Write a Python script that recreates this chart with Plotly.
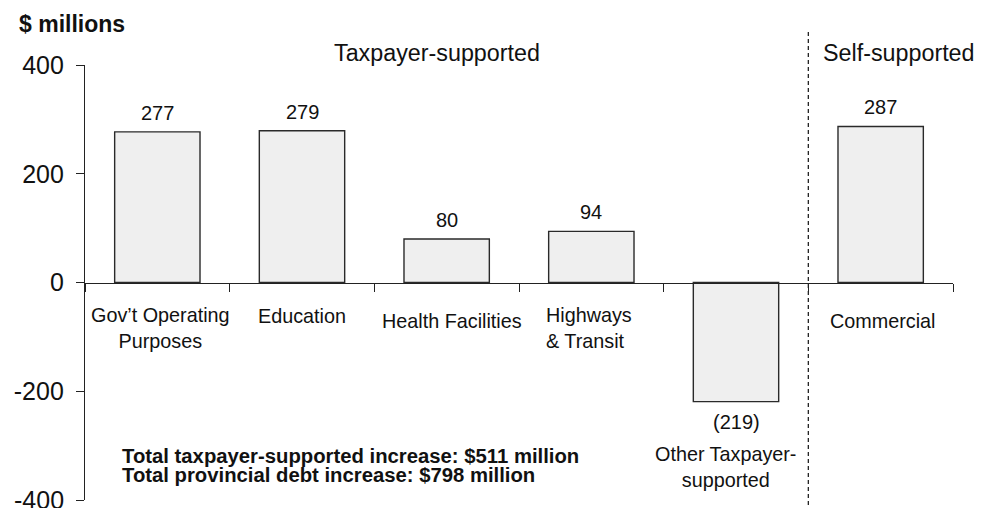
import plotly.graph_objects as go

# Change in provincial debt by sector, $ millions
categories = [
    "Gov't Operating Purposes",
    "Education",
    "Health Facilities",
    "Highways & Transit",
    "Other Taxpayer-supported",
    "Commercial",
]
category_labels = [
    "Gov’t Operating<br>Purposes",
    "Education",
    "Health Facilities",
    "Highways<br>& Transit",
    "Other Taxpayer-<br>supported",
    "Commercial",
]
values = [277, 279, 80, 94, -219, 287]
y_ticks = [-400, -200, 0, 200, 400]
group_titles = ["Taxpayer-supported", "Self-supported"]
summary_lines = [
    "Total taxpayer-supported increase: $511 million",
    "Total provincial debt increase: $798 million",
]

FONT = "Arial, 'Liberation Sans', sans-serif"
INK = "#111"

fig = go.Figure()
fig.add_trace(go.Bar(
    x=categories,
    y=values,
    width=0.59,
    marker=dict(color="#efefef", line=dict(color="#2a2a2a", width=1.4)),
    hoverinfo="x+y",
    showlegend=False,
))

ann = []

# value labels just beyond each bar end
for c, v in zip(categories, values):
    txt = f"({abs(v)})" if v < 0 else f"{v}"
    ann.append(dict(
        x=c, y=v, xref="x", yref="y", text=txt, showarrow=False,
        yanchor="middle", yshift=19 if v >= 0 else -20,
        font=dict(size=20, color=INK),
    ))

# category names below the axis (pixel offsets under the zero line)
label_offsets = [45, 33, 38, 45, 184, 38]
label_xshift = [3, 0, 5, -2, -11, 2]
label_align = ["center", "center", "center", "left", "center", "center"]
for c, lab, off, xs, al in zip(categories, category_labels, label_offsets,
                               label_xshift, label_align):
    ann.append(dict(
        x=c, y=0, xref="x", yref="y", text=lab, showarrow=False,
        yanchor="middle", yshift=-off, xshift=xs, align=al,
        font=dict(size=19.8, color=INK),
    ))

# group headings
ann.append(dict(x=2, y=1, xref="x", yref="paper", text=group_titles[0],
                showarrow=False, yanchor="middle", yshift=12, xshift=-10,
                font=dict(size=23.3, color=INK)))
ann.append(dict(x=5, y=1, xref="x", yref="paper", text=group_titles[1],
                showarrow=False, yanchor="middle", yshift=12, xshift=18,
                font=dict(size=23.3, color=INK)))

# axis unit
ann.append(dict(x=0, y=1, xref="paper", yref="paper", text="<b>$ millions</b>",
                showarrow=False, xanchor="left", yanchor="middle",
                xshift=-68, yshift=41, font=dict(size=23, color=INK)))

# bottom tick label sits at the figure edge, so it is placed by hand
ann.append(dict(x=0, y=y_ticks[0], xref="paper", yref="y", text=str(y_ticks[0]),
                showarrow=False, xanchor="right", yanchor="middle",
                xshift=-19, font=dict(size=25, color=INK)))

# totals
for i, line in enumerate(summary_lines):
    ann.append(dict(x=0, y=0, xref="paper", yref="y", text=f"<b>{line}</b>",
                    showarrow=False, xanchor="left", yanchor="middle",
                    xshift=35, yshift=-173 - 19 * i,
                    font=dict(size=20.3, color=INK)))

fig.update_layout(
    width=984, height=508,
    margin=dict(l=85, r=31, t=65, b=8),
    paper_bgcolor="white", plot_bgcolor="white",
    font=dict(family=FONT, color=INK),
    annotations=ann,
    shapes=[dict(
        type="line", xref="x", yref="paper", x0=4.5, x1=4.5,
        y0=-0.0115, y1=1.076,
        line=dict(color="#222", width=1.3, dash="4px,3px"),
    )],
    xaxis=dict(
        type="category", range=[-0.5, 5.5], anchor="free", position=0.5,
        showline=True, linecolor="#222", linewidth=1.3,
        ticks="outside", tickson="boundaries", ticklen=8, tickwidth=1.3,
        tickcolor="#222", showticklabels=False, showgrid=False,
        zeroline=False, fixedrange=True,
    ),
    yaxis=dict(
        range=[-400, 400], tickvals=y_ticks,
        ticktext=["" if t == y_ticks[0] else str(t) for t in y_ticks],
        showline=True, linecolor="#222", linewidth=1.3,
        ticks="outside", ticklen=8, tickwidth=1.3, tickcolor="#222",
        ticklabelstandoff=7,
        tickfont=dict(size=25, color=INK), showgrid=False,
        zeroline=False, fixedrange=True,
    ),
)

fig.write_html("out.html")
